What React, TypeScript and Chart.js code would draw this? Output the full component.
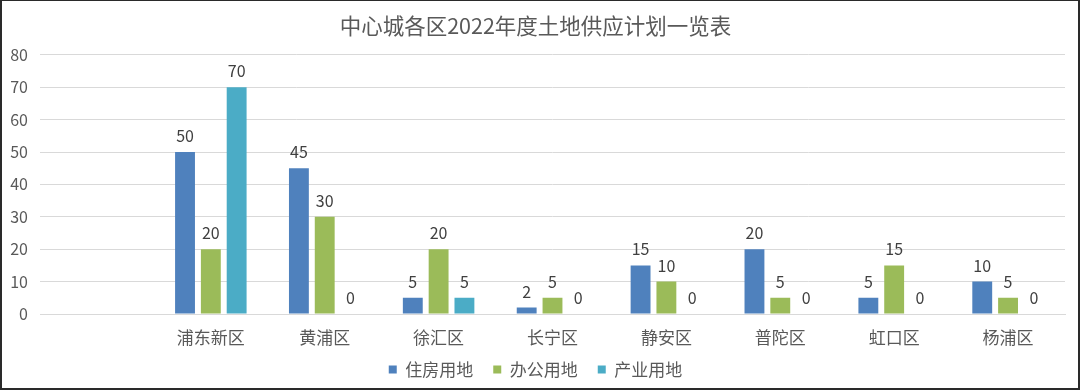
import React, { useEffect, useRef } from "react";
import { Chart, registerables } from "chart.js";

Chart.register(...registerables);

const titleText = "中心城各区2022年度土地供应计划一览表";
const categories = ["", "浦东新区", "黄浦区", "徐汇区", "长宁区", "静安区", "普陀区", "虹口区", "杨浦区"];
const housing = [null, 50, 45, 5, 2, 15, 20, 5, 10];
const office = [null, 20, 30, 20, 5, 10, 5, 15, 5];
const industry = [null, 70, 0, 5, 0, 0, 0, 0, 0];
const seriesNames = ["住房用地", "办公用地", "产业用地"];
const seriesColors = ["#4F81BD", "#9BBB59", "#4BACC6"];
const yTicks = [0, 10, 20, 30, 40, 50, 60, 70, 80];

const FONT = '"Noto Sans CJK SC", "Noto Sans", sans-serif';

const valueLabels = {
  id: "valueLabels",
  beforeDraw(chart: any) {
    // let the category labels extend below the (fixed-height) x axis box
    const xs = chart.scales.x;
    if (xs) xs.bottom = chart.height;
  },
  afterDatasetsDraw(chart: any) {
    const ctx = chart.ctx;
    ctx.save();
    ctx.font = `16px ${FONT}`;
    ctx.fillStyle = "#404040";
    ctx.textAlign = "center";
    ctx.textBaseline = "middle";
    chart.data.datasets.forEach((ds: any, di: number) => {
      const meta = chart.getDatasetMeta(di);
      meta.data.forEach((bar: any, i: number) => {
        const v = ds.data[i];
        if (v === null || v === undefined) return;
        ctx.fillText(String(v), bar.x, bar.y - 16);
      });
    });
    ctx.restore();
  },
};

export default function App() {
  const ref = useRef<HTMLCanvasElement>(null);
  useEffect(() => {
    if (!ref.current) return;
    const series = [housing, office, industry];
    const chart = new Chart(ref.current, {
      type: "bar",
      data: {
        labels: categories,
        datasets: series.map((d, i) => ({
          label: seriesNames[i],
          data: d as any,
          backgroundColor: seriesColors[i],
          categoryPercentage: 0.68,
          barPercentage: 0.77,
        })),
      },
      options: {
        animation: false,
        responsive: false,
        layout: { padding: { left: 4, right: 13, top: 0, bottom: 0 } },
        plugins: {
          title: {
            display: true,
            text: titleText,
            color: "#595959",
            font: { family: FONT, size: 21.5, weight: "normal" },
            padding: { top: 12, bottom: 16 },
          },
          legend: {
            position: "bottom",
            maxHeight: 47,
            labels: {
              boxWidth: 8,
              boxHeight: 8,
              padding: 20,
              color: "#595959",
              font: { family: FONT, size: 17 },
            },
          },
          tooltip: { enabled: false },
        },
        scales: {
          x: {
            grid: { display: false, drawTicks: false },
            border: { display: true, color: "#d9d9d9" },
            ticks: { color: "#595959", font: { family: FONT, size: 17 }, padding: 13 },
            afterFit: (s: any) => {
              s.height = 27;
            },
          },
          y: {
            min: 0,
            max: 80,
            afterBuildTicks: (s: any) => {
              s.ticks = yTicks.map((v) => ({ value: v }));
            },
            grid: { color: "#d9d9d9", drawTicks: false },
            border: { display: false },
            ticks: { color: "#595959", font: { family: FONT, size: 16 }, padding: 12 },
            afterFit: (s: any) => {
              s.width = 34;
            },
          },
        },
      },
      plugins: [valueLabels],
    });
    return () => chart.destroy();
  }, []);
  return (
    <div
      style={{
        position: "fixed",
        left: 0,
        top: 0,
        width: 1080,
        height: 390,
        boxSizing: "border-box",
        borderStyle: "solid",
        borderColor: "#2a2a2a",
        borderWidth: "1px 2px 2px 2px",
        background: "#fff",
      }}
    >
      <canvas ref={ref} width={1076} height={387} style={{ display: "block" }} />
    </div>
  );
}
